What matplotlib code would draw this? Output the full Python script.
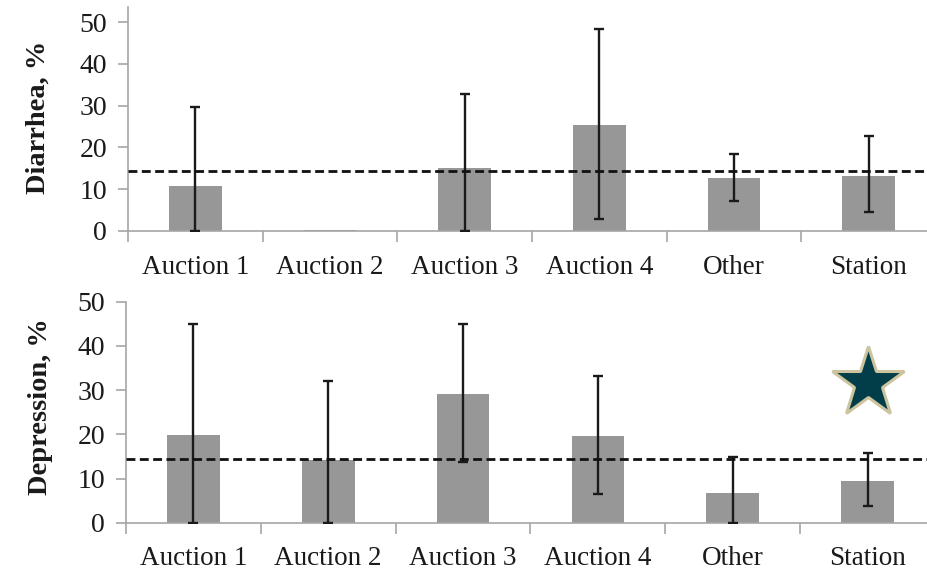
import matplotlib
matplotlib.use("Agg")
import matplotlib.pyplot as plt
import numpy as np

categories = ["Auction 1", "Auction 2", "Auction 3", "Auction 4", "Other", "Station"]

diarrhea = [10.7, 0.3, 15.0, 25.4, 12.6, 13.2]
diarrhea_low = [0.0, 0.3, 0.0, 2.9, 7.3, 4.5]
diarrhea_high = [29.7, 0.3, 32.7, 48.4, 18.5, 22.8]
diarrhea_mean = 14.3

depression = [19.8, 14.2, 29.1, 19.7, 6.8, 9.4]
depression_low = [0.0, 0.0, 13.7, 6.6, 0.0, 3.7]
depression_high = [45.0, 32.1, 45.0, 33.3, 14.8, 15.7]
depression_mean = 14.5

star_category = "Station"
star_value = 31.6

yticks = [0, 10, 20, 30, 40, 50]

plt.rcParams['font.family'] = ['Liberation Serif', 'DejaVu Serif']

W, H = 928, 572
fig = plt.figure(figsize=(W / 100, H / 100), dpi=100)

def px_axes(left, right, top, bottom):
    return fig.add_axes([left / W, 1 - bottom / H, (right - left) / W, (bottom - top) / H])

ax1 = px_axes(128, 936, 6.7, 231)
ax2 = px_axes(126, 935, 301.7, 522.7)

bar_color = "#979797"
axis_color = "#A6A6A6"

def draw(ax, vals, lo, hi, mean, ylabel, ytop, label_xy):
    x = np.arange(len(categories))
    ax.bar(x, vals, width=0.39, color=bar_color, zorder=2)
    v = np.array(vals)
    err = np.vstack([v - np.array(lo), np.array(hi) - v])
    has_err = (err.sum(axis=0) > 0)
    ax.errorbar(x[has_err], v[has_err], yerr=err[:, has_err], fmt='none',
                ecolor="#1a1a1a", elinewidth=1.7, capsize=3.7, capthick=1.7, zorder=3)
    ax.axhline(mean, color="#111111", lw=2.0, ls=(0, (3.2, 1.6)), zorder=4)
    ax.set_xlim(-0.5, len(categories) - 0.5)
    ax.set_ylim(0, ytop)
    ax.set_yticks(yticks)
    ax.set_xticks(np.arange(len(categories) + 1) - 0.5)
    ax.set_xticklabels([])
    ax.set_xticks(x, minor=True)
    ax.set_xticklabels(categories, minor=True, fontsize=19.5, color="#1a1a1a")
    ax.tick_params(axis='x', which='minor', length=0, pad=17)
    ax.tick_params(axis='x', which='major', length=8, color=axis_color, width=1.2, direction='out')
    ax.tick_params(axis='y', length=7, color=axis_color, width=1.2, direction='out',
                   labelsize=20, labelcolor="#1a1a1a", pad=8)
    for s in ["top", "right"]:
        ax.spines[s].set_visible(False)
    for s in ["left", "bottom"]:
        ax.spines[s].set_color(axis_color)
        ax.spines[s].set_linewidth(1.2)
    fig.text(label_xy[0] / W, 1 - label_xy[1] / H, ylabel, rotation=90, ha='center',
             va='center', fontsize=20.5, fontweight='bold', color="#1a1a1a")

draw(ax1, diarrhea, diarrhea_low, diarrhea_high, diarrhea_mean, "Diarrhea, %", 53.7, (38, 117))
draw(ax2, depression, depression_low, depression_high, depression_mean, "Depression, %", 50, (41, 407))

ax2.plot([categories.index(star_category)], [star_value], marker='*', markersize=54,
         markerfacecolor="#023E4A", markeredgecolor="#CBC49E", markeredgewidth=2.2,
         linestyle='none', zorder=5, clip_on=False)

fig.savefig("out.png", dpi=100, facecolor="white")
